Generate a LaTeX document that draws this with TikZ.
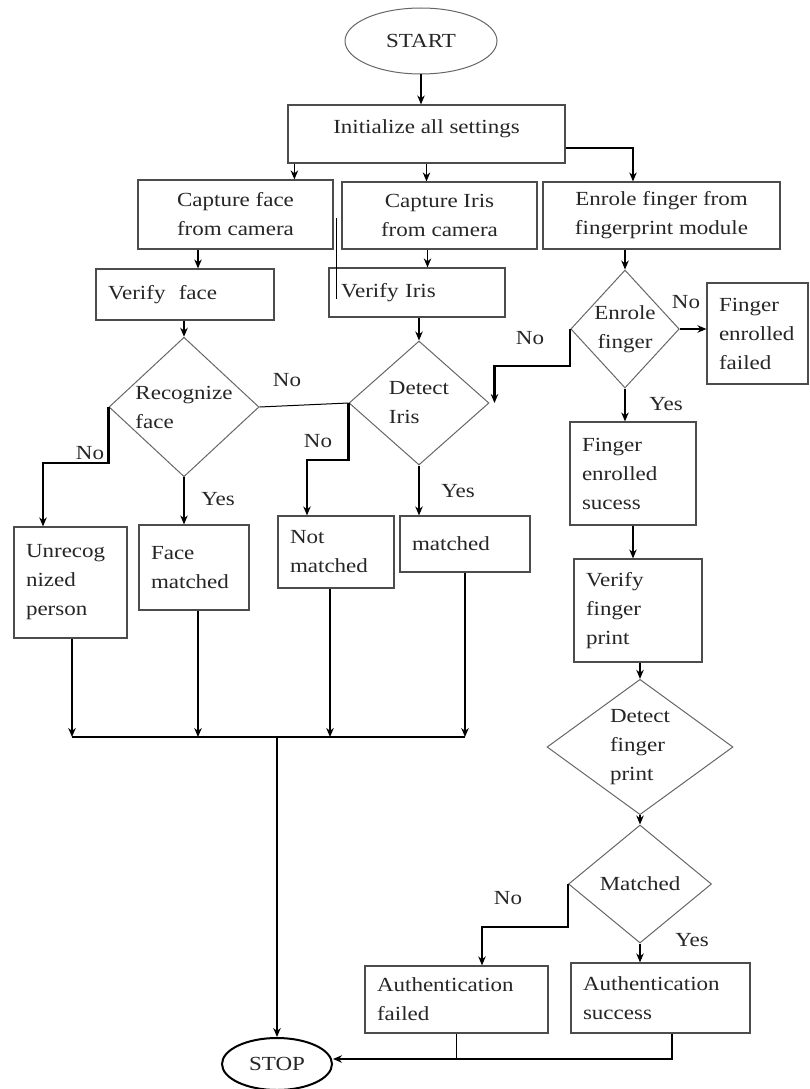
\documentclass[tikz,border=0pt]{standalone}
\usepackage{fontspec}
\setmainfont{Liberation Serif}[FakeStretch=1.15]
\usetikzlibrary{shapes.geometric,arrows.meta}

\begin{document}
\begin{tikzpicture}[x=1pt,y=-1pt,
    font=\fontsize{20}{29}\selectfont, text=black!85,
    box/.style={draw=black!70, line width=1.2pt, inner xsep=12pt, inner ysep=0pt, align=left},
    cbox/.style={box, align=center},
    dia/.style={diamond, draw=black!60, line width=1pt, inner sep=0pt, align=left},
    term/.style={ellipse, draw=black!60, line width=1pt, inner sep=0pt},
    arr/.style={-{Stealth[length=9pt,width=7.5pt]}, line width=1.2pt},
    tarr/.style={arr, line width=2.2pt},
    lbl/.style={inner sep=0pt}]
\useasboundingbox (0,0) rectangle (809,1089);

\node[term, minimum width=152pt, minimum height=66pt] (start) at (421,41) {START};
\node[cbox, minimum width=277pt, minimum height=58pt, text depth=14pt] (init) at (426.5,134) {Initialize all settings};
\node[cbox, minimum width=195pt, minimum height=69pt] (face) at (235.5,214.5) {Capture face\\from camera};
\node[cbox, minimum width=195pt, minimum height=67pt] (iris) at (439.5,215.5) {Capture Iris\\from camera};
\node[cbox, minimum width=237pt, minimum height=67pt] (enrol) at (661.5,215.5) {Enrole finger from\\fingerprint module};
\node[box, text width=154pt, minimum height=51pt] (vface) at (185,294.5) {Verify~ face};
\node[box, text width=152pt, minimum height=49pt] (viris) at (417,292.5) {Verify Iris};
\node[dia, minimum width=150pt, minimum height=132pt] (recog) at (184,407) {Recognize\\face};
\node[dia, minimum width=140pt, minimum height=124pt] (diris) at (419,403) {Detect\\Iris};
\node[dia, align=center, minimum width=106pt, minimum height=118pt] (edia) at (625,329) {Enrole\\finger};
\node[box, text width=77pt, minimum height=101pt] (ffail) at (757.5,333.5) {Finger\\enrolled\\failed};
\node[box, text width=89pt, minimum height=111pt] (unrec) at (70.5,582.5) {Unrecog\\nized\\person};
\node[box, text width=86pt, minimum height=85pt] (fmatch) at (194,567.5) {Face\\matched};
\node[box, text width=92pt, minimum height=72pt] (nmatch) at (336,552) {Not\\matched};
\node[box, text width=106pt, minimum height=56pt] (imatch) at (465,544) {matched};
\node[box, text width=102pt, minimum height=103pt] (fsucc) at (633,473.5) {Finger\\enrolled\\sucess};
\node[box, text width=104pt, minimum height=103pt] (vfp) at (638,610.5) {Verify\\finger\\print};
\node[dia, minimum width=186pt, minimum height=128pt] (dfp) at (640,747) {Detect\\finger\\print};
\node[dia, align=center, minimum width=143pt, minimum height=118pt] (mdia) at (640,884) {Matched};
\node[box, text width=159pt, minimum height=67pt] (afail) at (456.5,999.5) {Authentication\\failed};
\node[box, text width=155pt, minimum height=70pt] (asucc) at (660.5,998) {Authentication\\success};
\node[term, draw=black, line width=2pt, minimum width=110pt, minimum height=52pt] (stop) at (277,1064) {STOP};

\node[lbl] (no1) at (90,453) {No};
\node[lbl] (no2) at (287,380) {No};
\node[lbl] (no3) at (318,441) {No};
\node[lbl] (no4) at (530,338) {No};
\node[lbl] (no5) at (686,302) {No};
\node[lbl] (no6) at (508,898) {No};
\node[lbl] (yes1) at (218,499) {Yes};
\node[lbl] (yes2) at (458,491) {Yes};
\node[lbl] (yes3) at (666,404) {Yes};
\node[lbl] (yes4) at (692,940) {Yes};

\coordinate (mrg) at (277,737);
\coordinate (sj) at ([yshift=5pt]stop.east);

\draw[arr] (start.south) -- (start.south |- init.north);
\draw[arr] ([xshift=7pt]init.south west) -- ([xshift=7pt]init.south west |- face.north);
\draw[arr] (init.south) -- (init.south |- iris.north);
\draw[arr] ([yshift=-14pt]init.east) -| ([xshift=-28.5pt]enrol.north);
\draw[arr] ([xshift=-37.5pt]face.south) -- ([xshift=-37.5pt]face.south |- vface.north);
\draw[arr] ([xshift=-12pt]iris.south) -- ([xshift=-12pt]iris.south |- viris.north);
\draw[arr] (enrol.south -| edia) -- (edia.north);
\draw[arr] (vface.south -| recog) -- (recog.north);
\draw[arr] (viris.south -| diris) -- (diris.north);
\draw (336,218) -- (336,299);

\draw[tarr] (recog.west) -- ++(0,56) -| ([xshift=-27.5pt]unrec.north);
\draw[arr] (recog.south) -- (recog.south |- fmatch.north);
\draw[line width=1pt] (recog.east) -- (diris.west);
\draw[tarr] (diris.west) -- ++(0,57) -| ([xshift=-29pt]nmatch.north);
\draw[tarr] (diris.south) -- (diris.south |- imatch.north);
\draw[tarr] (edia.west) -- ++(0,37) -| ([xshift=5pt]diris.east);
\draw[tarr] (edia.east) -- (edia.east -| ffail.west);
\draw[arr] (edia.south) -- (edia.south |- fsucc.north);
\draw[arr] (fsucc.south) -- (fsucc.south |- vfp.north);
\draw[arr] (vfp.south -| dfp) -- (dfp.north);
\draw[arr] (dfp.south) -- (mdia.north);
\draw[tarr] (mdia.west) -- ++(0,43) -| ([xshift=25.5pt]afail.north);
\draw[tarr] (mdia.south) -- (mdia.south |- asucc.north);

\draw[arr] ([xshift=1.5pt]unrec.south) -- ([xshift=1.5pt]unrec.south |- mrg);
\draw[arr] ([xshift=4pt]fmatch.south) -- ([xshift=4pt]fmatch.south |- mrg);
\draw[tarr] ([xshift=-6pt]nmatch.south) -- ([xshift=-6pt]nmatch.south |- mrg);
\draw[arr] (imatch.south) -- (imatch.south |- mrg);
\draw[line width=1.2pt] ([xshift=1.5pt]unrec.south |- mrg) -- (imatch.south |- mrg);
\draw[arr] (mrg) -- (stop.north);
\draw[line width=1pt] (afail.south) -- (afail.south |- sj);
\draw[arr] ([xshift=11.5pt]asucc.south) |- (sj);
\end{tikzpicture}
\end{document}
